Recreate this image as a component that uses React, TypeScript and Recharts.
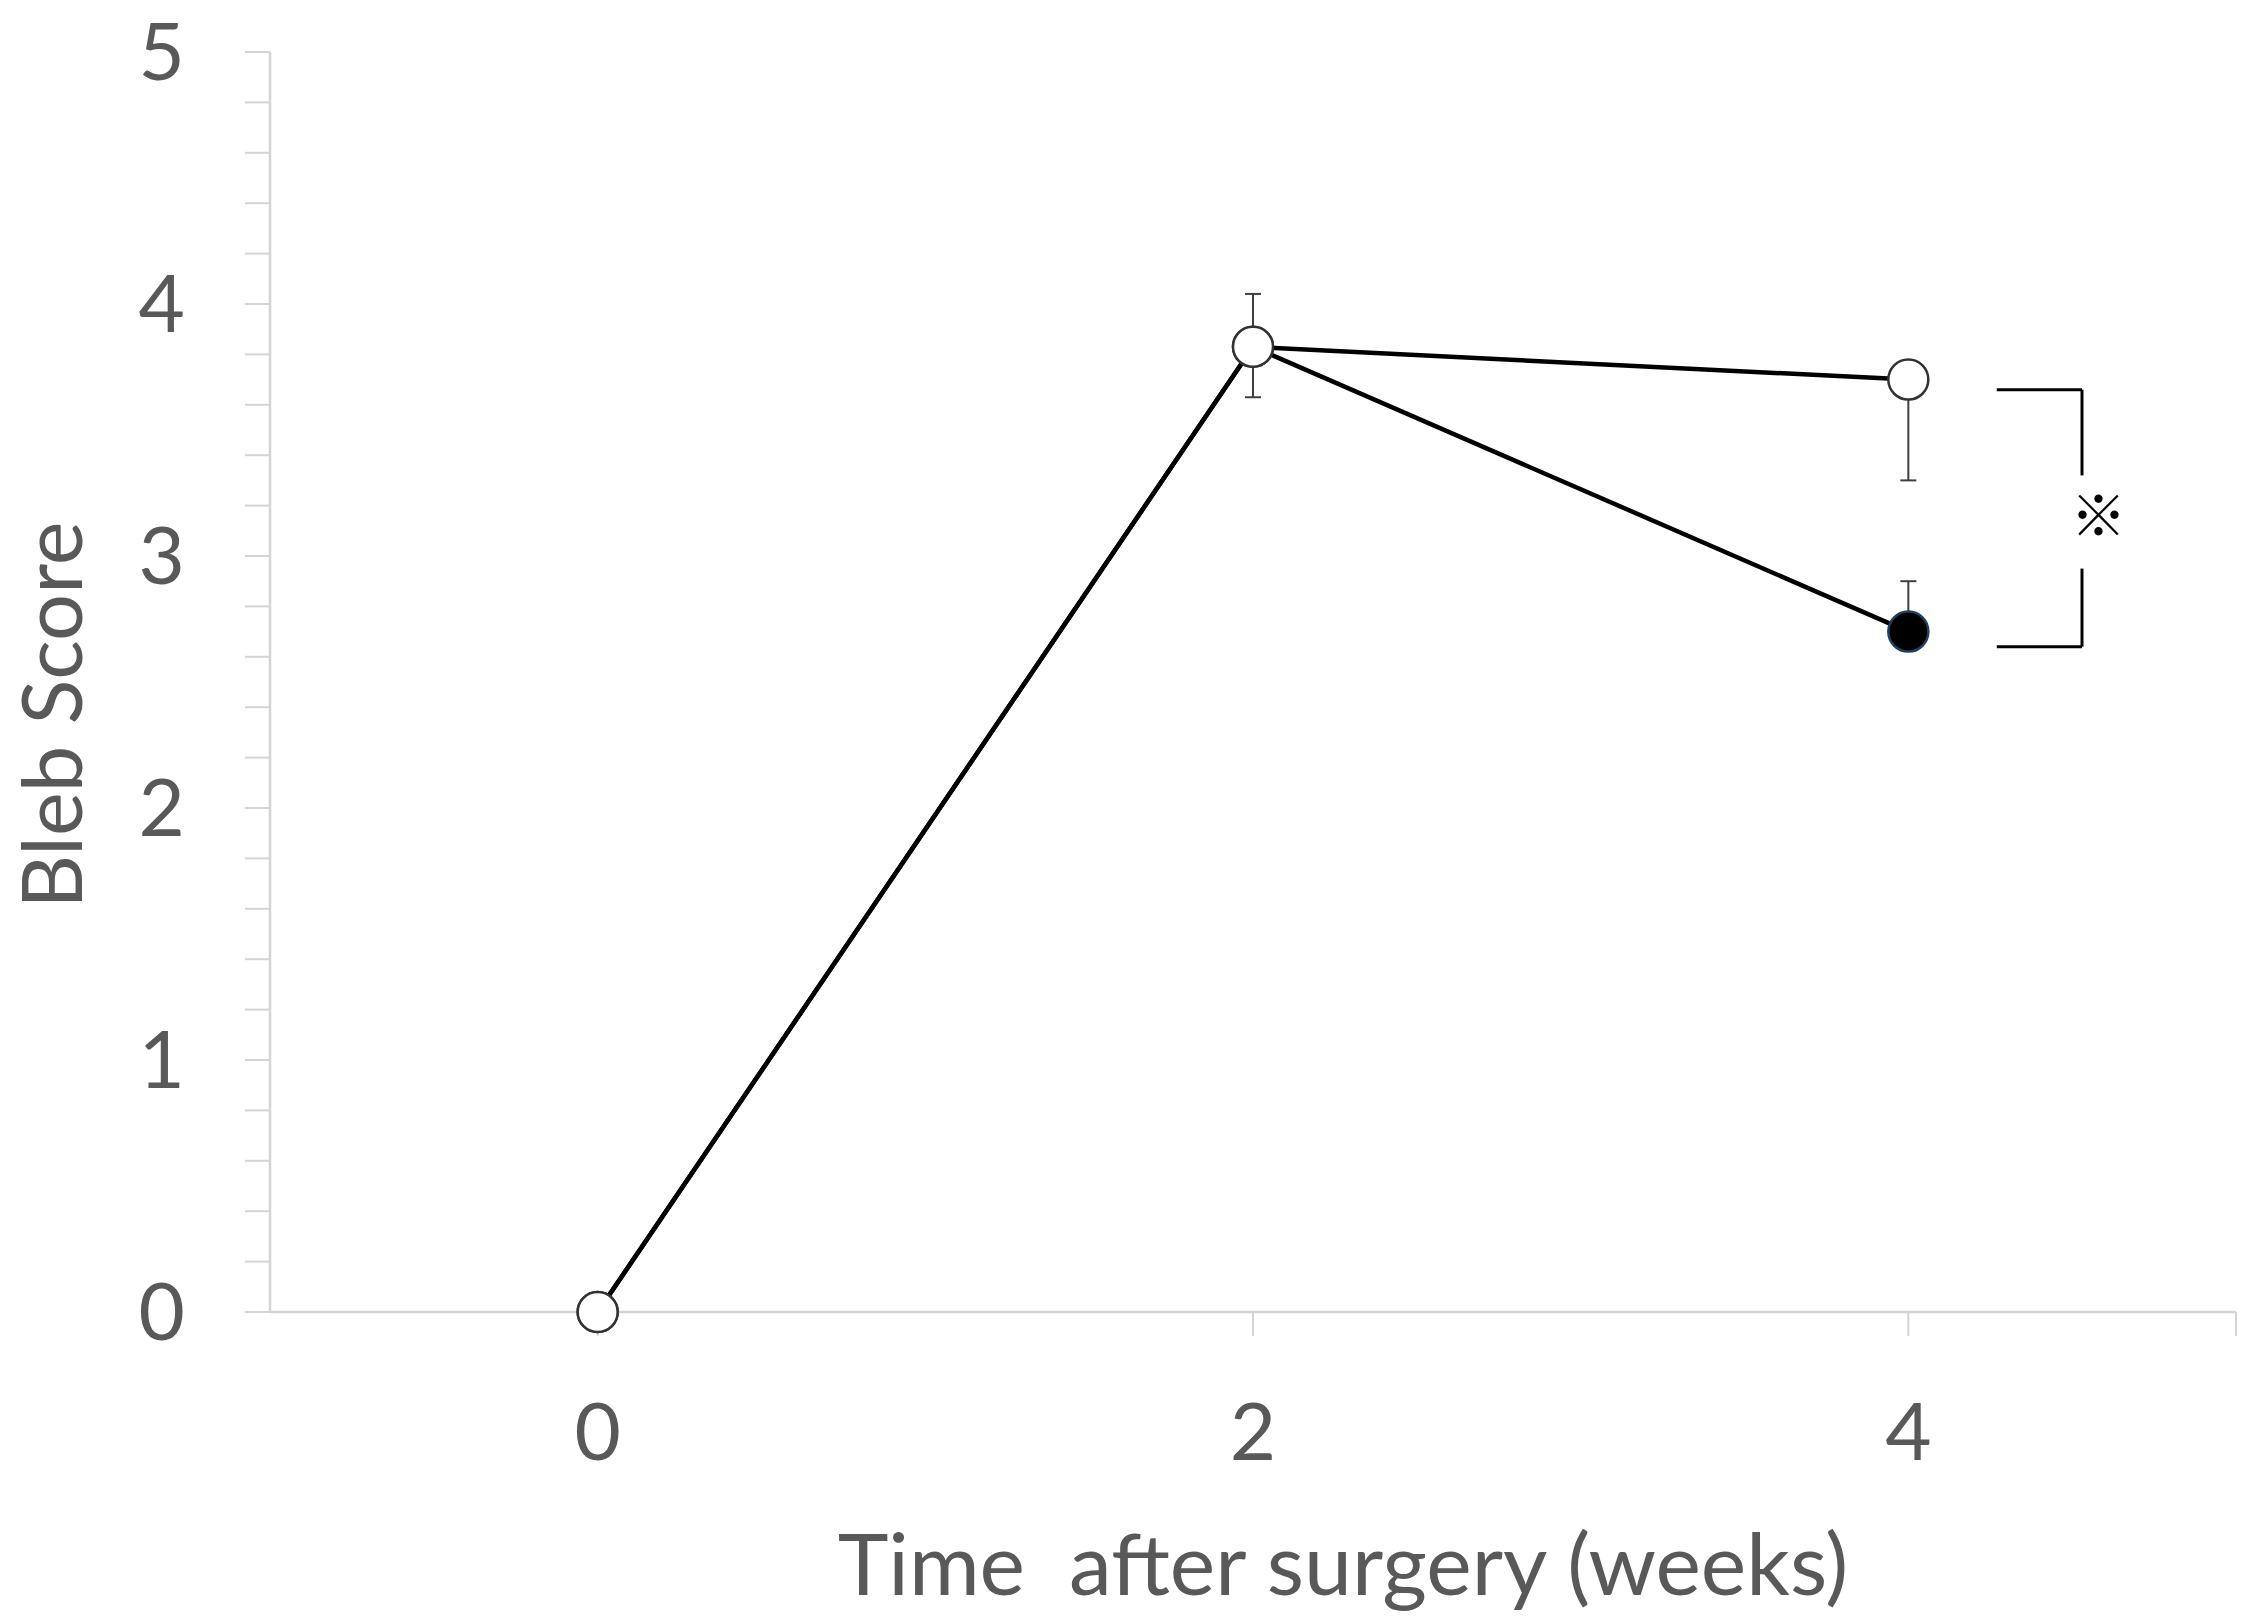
import React from 'react';
import { LineChart, Line, XAxis, YAxis, ErrorBar, ReferenceLine, ReferenceDot } from 'recharts';

// values
const weeks = [0, 2, 4];
const openScore = [0, 3.83, 3.7];
const filledScore = [0, 3.83, 2.7];
const openErr = [[0, 0], [0.2, 0.21], [0.4, 0]];
const filledErr = [[0, 0], [0, 0], [0, 0.2]];
const filledMarker = [false, false, true];

const xTicks = [0, 2, 4, 5];
const xTickLabels = ['0', '2', '4', ''];
const yTicks = [0, 0.2, 0.4, 0.6, 0.8, 1, 1.2, 1.4, 1.6, 1.8, 2, 2.2, 2.4, 2.6, 2.8, 3, 3.2, 3.4, 3.6, 3.8, 4, 4.2, 4.4, 4.6, 4.8, 5];
const yTickLabels = ['0', '1', '2', '3', '4', '5'];

// significance bracket (data units)
const bracketLeft = 4.27;
const bracketRight = 4.53;
const bracketTop = 3.66;
const bracketBottom = 2.64;
const bracketGapTop = 3.32;
const bracketGapBottom = 2.95;
const markX = 4.58;
const markY = 3.16;

const data = weeks.map((w, i) => ({
  week: w,
  open: openScore[i],
  filled: filledScore[i],
  openErr: openErr[i],
  filledErr: filledErr[i],
}));

const textColor = '#595959';
const axisColor = '#d4d4d4';
const font = 'Lato, "Open Sans", sans-serif';

const makeDot = (flags: boolean[]) => (props: any) => {
  const { cx, cy, index } = props;
  const filled = flags[index];
  return (
    <circle
      key={`dot-${index}`}
      cx={cx}
      cy={cy}
      r={20}
      fill={filled ? '#000' : '#fff'}
      stroke={filled ? '#1f3f5f' : '#333'}
      strokeWidth={2.5}
    />
  );
};

const XTitle = ({ viewBox }: any) => (
  <text
    x={viewBox.x + viewBox.width / 2 + 90}
    y={viewBox.y + viewBox.height - 28}
    textAnchor="middle"
    fill={textColor}
    fontSize={86}
    fontFamily={font}
    style={{ whiteSpace: 'pre' }}
  >
    {'Time  after surgery (weeks)'}
  </text>
);

const YTitle = ({ viewBox }: any) => {
  const x = viewBox.x + 50;
  const y = viewBox.y + viewBox.height / 2 + 33;
  return (
    <text
      x={x}
      y={y}
      transform={`rotate(-90, ${x}, ${y})`}
      textAnchor="middle"
      dominantBaseline="central"
      fill={textColor}
      fontSize={83}
      fontFamily={font}
    >
      Bleb Score
    </text>
  );
};

export default function App() {
  return (
    <div style={{ position: 'absolute', left: 0, top: 0, background: '#fff' }}>
      <LineChart width={2259} height={1623} data={data} margin={{ top: 52, right: 23, left: 0, bottom: 0 }}>
        <XAxis
          type="number"
          dataKey="week"
          domain={[-1, 5]}
          ticks={xTicks}
          interval={0}
          tickFormatter={(v: number) => xTickLabels[xTicks.indexOf(v)]}
          height={311}
          tickSize={24}
          tickMargin={67}
          stroke={axisColor}
          axisLine={{ stroke: axisColor, strokeWidth: 2.5 }}
          tickLine={{ stroke: axisColor, strokeWidth: 2 }}
          tick={{ fill: textColor, fontSize: 80, fontFamily: font }}
          label={<XTitle />}
        />
        <YAxis
          type="number"
          domain={[0, 5]}
          ticks={yTicks}
          interval={0}
          tickFormatter={(v: number) => (Number.isInteger(v) ? yTickLabels[v] : '')}
          width={270}
          tickSize={25}
          tickMargin={60}
          stroke={axisColor}
          axisLine={{ stroke: axisColor, strokeWidth: 2.5 }}
          tickLine={{ stroke: axisColor, strokeWidth: 2 }}
          tick={{ fill: textColor, fontSize: 80, fontFamily: font }}
          label={<YTitle />}
        />
        <Line
          dataKey="open"
          stroke="#000"
          strokeWidth={4.5}
          dot={makeDot([false, false, false])}
          activeDot={false}
          isAnimationActive={false}
        >
          <ErrorBar dataKey="openErr" direction="y" width={8} stroke="#404040" strokeWidth={2} />
        </Line>
        <Line
          dataKey="filled"
          stroke="#000"
          strokeWidth={4.5}
          dot={makeDot(filledMarker)}
          activeDot={false}
          isAnimationActive={false}
        >
          <ErrorBar dataKey="filledErr" direction="y" width={8} stroke="#404040" strokeWidth={2} />
        </Line>
        <ReferenceLine segment={[{ x: bracketLeft, y: bracketTop }, { x: bracketRight, y: bracketTop }]} stroke="#000" strokeWidth={3} />
        <ReferenceLine segment={[{ x: bracketRight, y: bracketTop }, { x: bracketRight, y: bracketGapTop }]} stroke="#000" strokeWidth={3} />
        <ReferenceLine segment={[{ x: bracketRight, y: bracketGapBottom }, { x: bracketRight, y: bracketBottom }]} stroke="#000" strokeWidth={3} />
        <ReferenceLine segment={[{ x: bracketLeft, y: bracketBottom }, { x: bracketRight, y: bracketBottom }]} stroke="#000" strokeWidth={3} />
        <ReferenceDot
          x={markX}
          y={markY}
          r={0}
          fill="none"
          stroke="none"
          label={{ value: '※', position: 'center', fill: '#000', fontSize: 56, fontFamily: '"Noto Sans CJK JP"' }}
        />
      </LineChart>
    </div>
  );
}
